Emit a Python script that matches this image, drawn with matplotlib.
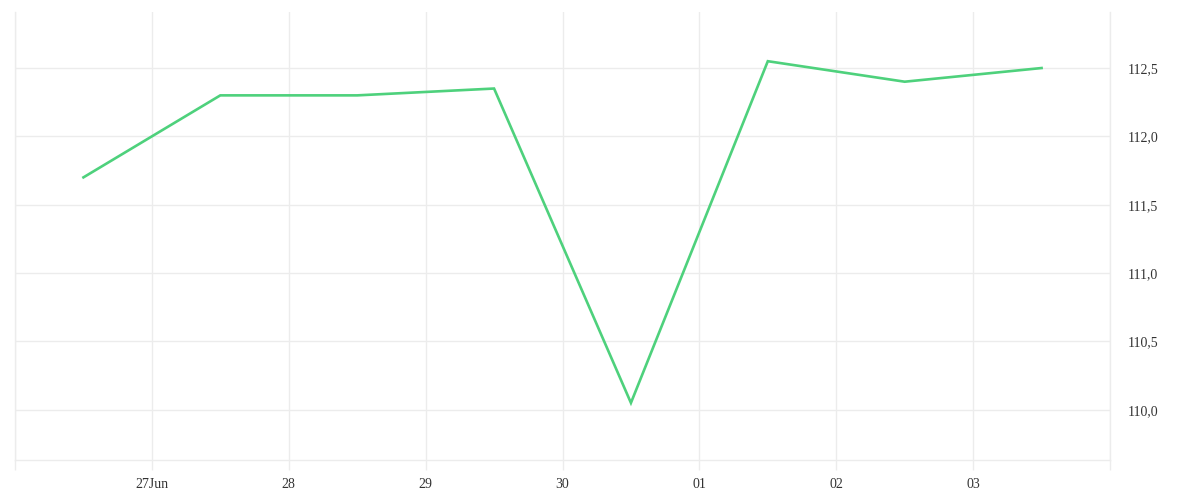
import numpy as np
import matplotlib.pyplot as plt
import matplotlib.dates as mdates
from datetime import datetime

# daily values, plotted at midday
days = ['2023-06-26', '2023-06-27', '2023-06-28', '2023-06-29',
        '2023-06-30', '2023-07-01', '2023-07-02', '2023-07-03']
values = [111.70, 112.30, 112.30, 112.35, 110.05, 112.55, 112.40, 112.50]
tick_days = ['2023-06-26', '2023-06-27', '2023-06-28', '2023-06-29', '2023-06-30',
             '2023-07-01', '2023-07-02', '2023-07-03', '2023-07-04']
tick_labels = ['', '27Jun', '28', '29', '30', '01', '02', '03', '']
y_ticks = [110.0, 110.5, 111.0, 111.5, 112.0, 112.5]

x = [mdates.date2num(datetime.strptime(d, '%Y-%m-%d')) + 0.5 for d in days]
xt = [mdates.date2num(datetime.strptime(d, '%Y-%m-%d')) for d in tick_days]

grid_c = '#ececec'
text_c = '#333333'

fig = plt.figure(figsize=(12, 5), dpi=100)
ax = fig.add_axes([0.0125, 0.08, 0.9125, 0.896])

ax.plot(x, values, color='#4ed17c', linewidth=1.9, solid_joinstyle='miter')

ax.set_xlim(xt[0], xt[-1])
ax.set_ylim(109.632, 112.91)

ax.set_xticks(xt)
ax.set_xticklabels(tick_labels, family='Liberation Serif', fontsize=10, color=text_c)
ax.set_yticks(y_ticks)
ax.set_yticklabels([('%.1f' % v).replace('.', ',') for v in y_ticks],
                   family='Liberation Serif', fontsize=10, color=text_c)
ax.yaxis.tick_right()
ax.tick_params(axis='y', length=0, pad=13)
ax.tick_params(axis='x', length=7, color=grid_c, width=1, pad=6)

ax.grid(True, color=grid_c, linewidth=1)
ax.set_axisbelow(True)
for s in ['top']:
    ax.spines[s].set_visible(False)
for s in ['left', 'right', 'bottom']:
    ax.spines[s].set_color(grid_c)
    ax.spines[s].set_linewidth(1)

plt.savefig('out.png')
